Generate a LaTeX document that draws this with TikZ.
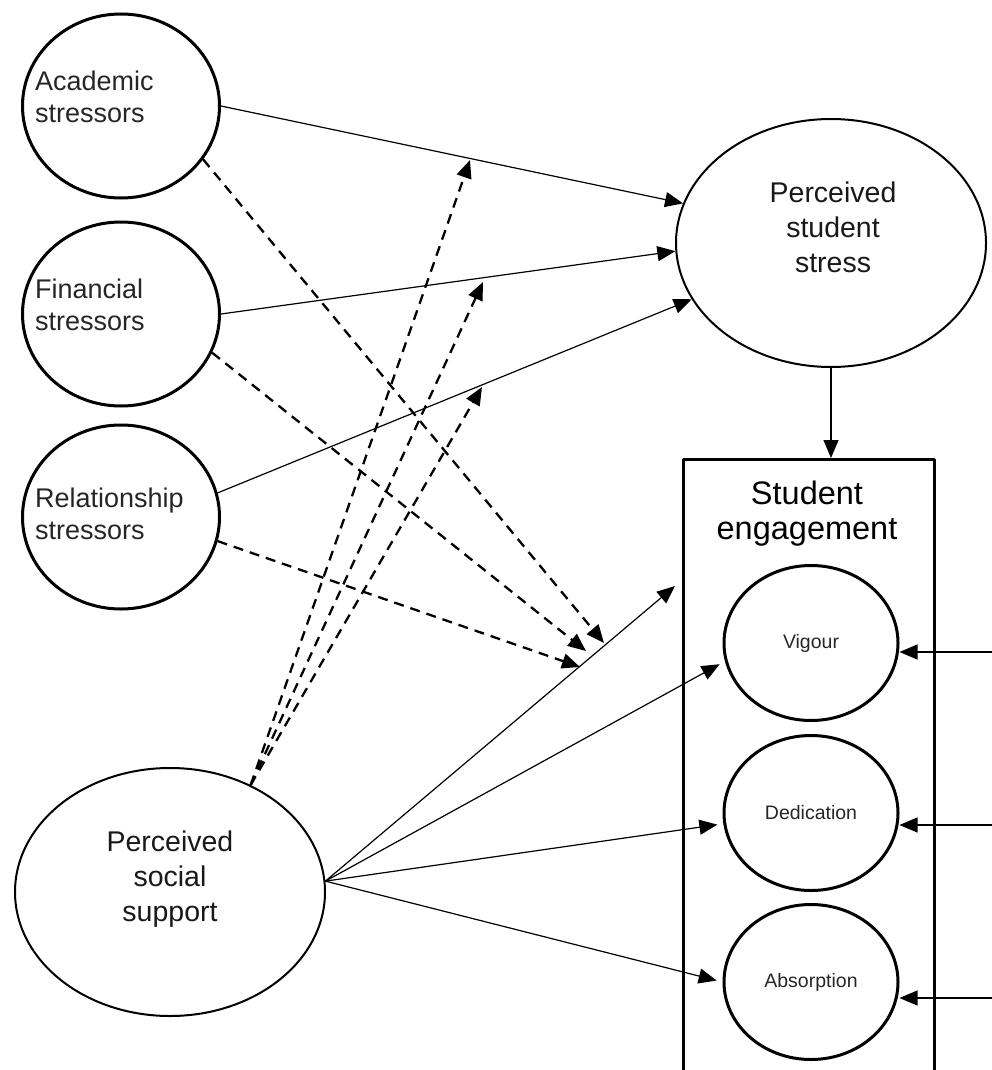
\documentclass[tikz,border=0pt]{standalone}
\usepackage{fontspec}
\setmainfont{Liberation Sans}
\usetikzlibrary{arrows.meta,shapes.geometric}

\begin{document}
\begin{tikzpicture}[x=1pt,y=-1pt,line join=round,>={Triangle[length=18pt,width=15pt]},
	stressor/.style={draw,line width=3pt,ellipse,minimum width=197pt,minimum height=184pt,inner sep=0pt},
	latent/.style={draw,line width=2pt,ellipse,minimum width=310pt,minimum height=248pt,inner sep=0pt},
	facet/.style={draw,line width=3pt,ellipse,minimum width=174pt,minimum height=155pt,inner sep=0pt,text=black!85,font=\fontsize{19.5}{23}\selectfont},
	lbl/.style={align=left,inner sep=0pt,text=black!85,font=\fontsize{27}{32}\selectfont},
	biglbl/.style={align=center,inner sep=0pt,text=black!90,font=\fontsize{28.5}{35}\selectfont},
	arr/.style={->,line width=1.2pt},
	modarr/.style={->,line width=2.3pt,dash pattern=on 10pt off 7pt}]
	\useasboundingbox (0,0) rectangle (992,1070);
	
	\node[stressor] (acad) at (121,106) {};
	\node[stressor] (fin) at (121,314) {};
	\node[stressor] (rel) at (121,517) {};
	\node[lbl,anchor=west] (acadlbl) at (35,96.5) {Academic\\stressors};
	\node[lbl,anchor=west] (finlbl) at (35,304.5) {Financial\\stressors};
	\node[lbl,anchor=west] (rellbl) at (35,513.5) {Relationship\\stressors};
	
	\node[latent] (stress) at (831,243) {};
	\node[biglbl] (stresslbl) at (833,227.5) {Perceived\\student\\stress};
	\node[latent] (social) at (170,892) {};
	\node[biglbl] (sociallbl) at (170,879.5) {Perceived\\social\\support};
	
	\node[draw,line width=3pt,minimum width=251pt,minimum height=640pt,anchor=north west] (engage) at (682,458) {};
	\node[biglbl,font=\fontsize{32.5}{35}\selectfont,text=black] (engagelbl) at (807,514) {Student\\engagement};
	\node[facet] (vig) at (811,643) {Vigour};
	\node[facet] (ded) at (811,813) {Dedication};
	\node[facet] (abs) at (811,982) {Absorption};
	
	\coordinate (engin) at (675,586);
	\coordinate (vin) at (994,652);
	\coordinate (din) at (994,825);
	\coordinate (ain) at (994,998);
	\coordinate (M1) at (604,643);
	\coordinate (M2) at (586,651);
	\coordinate (M3) at (580,667);
	\coordinate (P1) at (470,160);
	\coordinate (P2) at (483,282);
	\coordinate (P3) at (482,387);
	
	\draw[arr] (acad.east) -- (stress.165);
	\draw[arr] (fin.east) -- (stress.183);
	\draw[arr] (rel.14) -- (stress.202);
	\draw[arr] (stress.south) -- (stress.south |- engage.north);
	
	\draw[arr] (social.4) -- (engin);
	\draw[arr,shorten >=6pt] (social.4) -- (vig.192);
	\draw[arr,shorten >=6pt] (social.4) -- (ded.187);
	\draw[arr,shorten >=6pt] (social.4) -- (abs.180);
	
	\draw[arr] (vin) -- (vin -| vig.east);
	\draw[arr] (din) -- (din -| ded.east);
	\draw[arr] (ain) -- (ain -| abs.east);
	
	\draw[modarr] (acad.-33) -- (M1);
	\draw[modarr] (fin.-23) -- (M2);
	\draw[modarr] (rel.-14) -- (M3);
	\draw[modarr] (social.53) -- (P1);
	\draw[modarr] (social.53) -- (P2);
	\draw[modarr] (social.53) -- (P3);
\end{tikzpicture}
\end{document}
